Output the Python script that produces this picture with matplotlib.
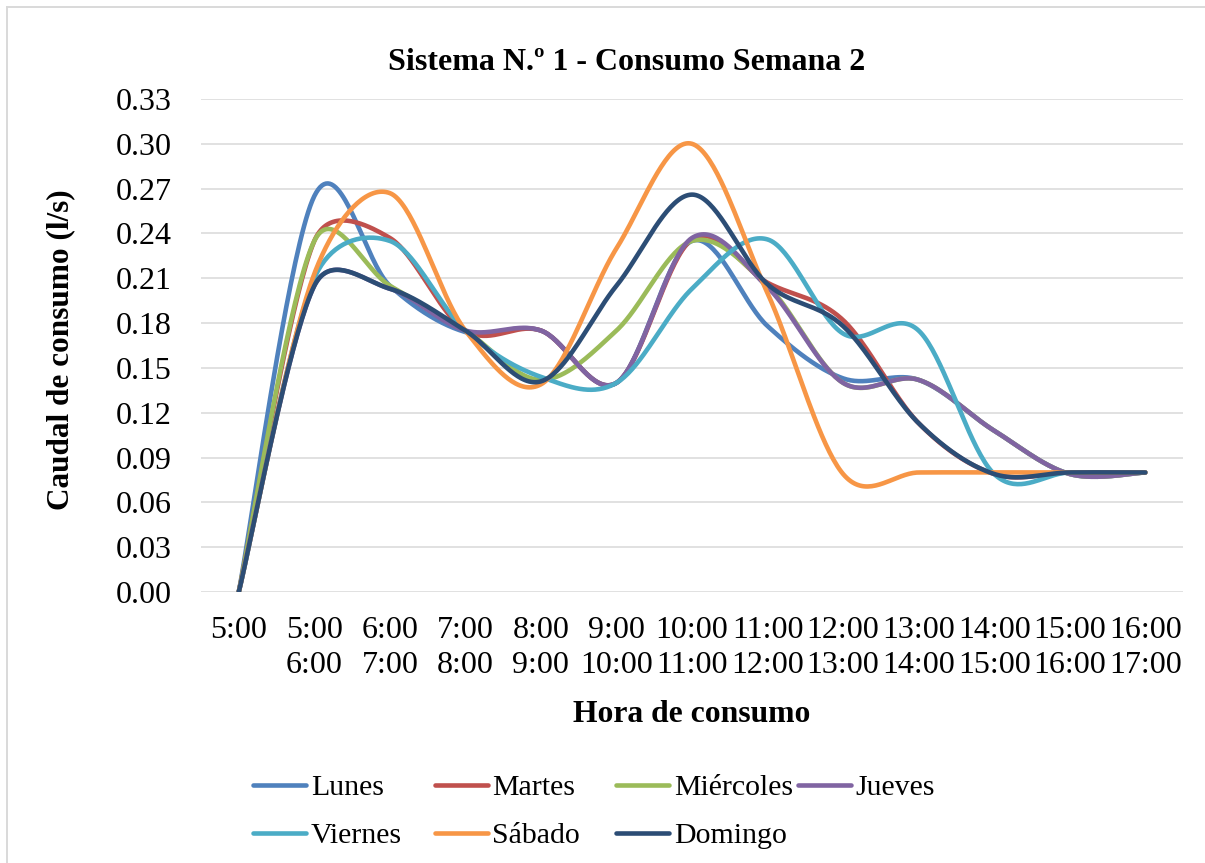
import numpy as np
import matplotlib
matplotlib.use('Agg')
import matplotlib.pyplot as plt
from matplotlib.lines import Line2D

horas = ['5:00', '5:00\n6:00', '6:00\n7:00', '7:00\n8:00', '8:00\n9:00', '9:00\n10:00',
         '10:00\n11:00', '11:00\n12:00', '12:00\n13:00', '13:00\n14:00', '14:00\n15:00',
         '15:00\n16:00', '16:00\n17:00']

lunes     = [0, 0.265, 0.205, 0.174, 0.175, 0.140, 0.235, 0.178, 0.143, 0.142, 0.108, 0.079, 0.080]
martes    = [0, 0.235, 0.237, 0.175, 0.175, 0.140, 0.236, 0.207, 0.182, 0.113, 0.079, 0.080, 0.080]
miercoles = [0, 0.235, 0.205, 0.175, 0.142, 0.175, 0.235, 0.205, 0.140, 0.142, 0.108, 0.079, 0.080]
jueves    = [0, 0.205, 0.203, 0.175, 0.175, 0.140, 0.237, 0.204, 0.140, 0.142, 0.108, 0.079, 0.080]
viernes   = [0, 0.210, 0.235, 0.175, 0.144, 0.140, 0.203, 0.236, 0.173, 0.175, 0.079, 0.080, 0.080]
sabado    = [0, 0.213, 0.267, 0.175, 0.139, 0.230, 0.300, 0.200, 0.079, 0.080, 0.080, 0.080, 0.080]
domingo   = [0, 0.205, 0.203, 0.175, 0.141, 0.205, 0.266, 0.206, 0.178, 0.113, 0.079, 0.080, 0.080]

series = [
    ('Lunes', lunes, '#4F81BD'),
    ('Martes', martes, '#C0504D'),
    ('Miércoles', miercoles, '#9BBB59'),
    ('Jueves', jueves, '#8064A2'),
    ('Viernes', viernes, '#4BACC6'),
    ('Sábado', sabado, '#F79646'),
    ('Domingo', domingo, '#2C4D75'),
]

W, H = 1205, 863
FONT = 'Liberation Serif'


def excel_smooth(ax, xs, ys, n=40):
    # bezier smoothing like excel's "smoothed line", done in pixel space
    pts = ax.transData.transform(np.column_stack([xs, ys]))
    out = [pts[:1]]
    m = len(pts)
    t = np.linspace(0, 1, n)[1:, None]
    for i in range(m - 1):
        p0 = pts[i - 1] if i > 0 else pts[i]
        p1, p2 = pts[i], pts[i + 1]
        p3 = pts[i + 2] if i + 2 < m else pts[i + 1]
        d02 = np.hypot(*(p2 - p0))
        d12 = np.hypot(*(p2 - p1))
        d13 = np.hypot(*(p3 - p1))
        f = 1 / 6 if d02 / 6 < d12 / 2 else d12 / (2 * d02)
        g = 1 / 6 if d13 / 6 < d12 / 2 else d12 / (2 * d13)
        c1 = p1 + (p2 - p0) * f
        c2 = p2 - (p3 - p1) * g
        seg = (1 - t) ** 3 * p1 + 3 * (1 - t) ** 2 * t * c1 + 3 * (1 - t) * t ** 2 * c2 + t ** 3 * p2
        out.append(seg)
    return ax.transData.inverted().transform(np.vstack(out))


fig = plt.figure(figsize=(W / 100, H / 100), dpi=100)
# chart frame: only left and top edges show in the picture
fig.add_artist(Line2D([7 / W, 7 / W], [0, 1 - 7 / H], transform=fig.transFigure,
                      color='#d9d9d9', linewidth=1.4))
fig.add_artist(Line2D([7 / W, 1], [1 - 7 / H, 1 - 7 / H], transform=fig.transFigure,
                      color='#d9d9d9', linewidth=1.4))

ax = fig.add_axes([201 / W, 1 - 592 / H, (1183 - 201) / W, (592 - 99) / H])
x = np.arange(len(horas))
ax.set_xlim(-0.5, len(horas) - 0.5)
ax.set_ylim(0, 0.33)
ax.set_yticks(np.arange(0, 0.331, 0.03))
ax.set_yticklabels(['%.2f' % v for v in np.arange(0, 0.331, 0.03)])
ax.set_xticks(x)
ax.set_xticklabels(horas, linespacing=1.27)
ax.tick_params(length=0, labelsize=23)
ax.tick_params(axis='y', pad=21)
ax.tick_params(axis='x', pad=17)
for lab in ax.get_xticklabels() + ax.get_yticklabels():
    lab.set_family(FONT)
    lab.set_color('black')
for s in ax.spines.values():
    s.set_visible(False)
ax.grid(axis='y', color='#d9d9d9', linewidth=1.1)
ax.set_axisbelow(True)

for name, vals, col in series:
    sm = excel_smooth(ax, x, vals)
    ax.plot(sm[:, 0], sm[:, 1], color=col, linewidth=3.3, solid_capstyle='round',
            solid_joinstyle='round')

fig.text(627 / W, 1 - 70 / H, 'Sistema N.º 1 - Consumo Semana 2', ha='center', va='baseline',
         family=FONT, fontsize=23, fontweight='bold')
fig.text(692 / W, 1 - 722 / H, 'Hora de consumo', ha='center', va='baseline',
         family=FONT, fontsize=22.8, fontweight='bold')
fig.text(61 / W, 1 - 350 / H, 'Caudal de consumo (l/s)', ha='center', va='center',
         rotation=90, family=FONT, fontsize=22.5, fontweight='bold')

# legend, excel style fixed columns
for k, (name, vals, col) in enumerate(series):
    r, c = divmod(k, 4)
    x0 = 253 + c * 181.5
    y0 = 785 + r * 48
    fig.add_artist(Line2D([x0 / W, (x0 + 53) / W], [1 - y0 / H, 1 - y0 / H], transform=fig.transFigure,
                          color=col, linewidth=3.3, solid_capstyle='round'))
    fig.text((x0 + 58) / W, 1 - (y0 + 10) / H, name, ha='left', va='baseline',
             family=FONT, fontsize=21.5)

fig.savefig('out.png', dpi=100)
